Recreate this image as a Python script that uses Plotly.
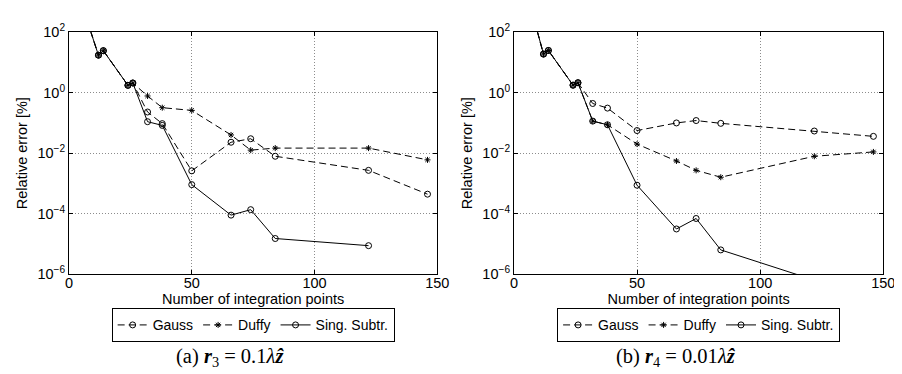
import plotly.graph_objects as go

# ---------------- data ----------------
n_pts = [6, 12, 14, 24, 26, 32, 38, 50, 66, 74, 84, 122, 146]
n_ss = [6, 12, 14, 24, 26, 32, 38, 50, 66, 74, 84, 122]

# (a) r3 = 0.1 lambda z
gauss_a = [540, 17.5, 24.6, 1.76, 2.1, 0.23, 0.095, 0.0026, 0.023, 0.030, 0.0079, 0.0027, 0.00044]
duffy_a = [540, 17.5, 24.6, 1.76, 2.1, 0.78, 0.32, 0.26, 0.040, 0.0126, 0.0147, 0.0147, 0.0060]
ss_a = [540, 17.5, 24.6, 1.76, 2.1, 0.11, 0.083, 0.00091, 8.9e-5, 1.35e-4, 1.5e-5, 8.7e-6]

# (b) r4 = 0.01 lambda z
gauss_b = [1200, 19, 25, 1.78, 2.14, 0.44, 0.31, 0.056, 0.10, 0.12, 0.097, 0.054, 0.036]
duffy_b = [1200, 19, 25, 1.78, 2.14, 0.115, 0.087, 0.020, 0.0055, 0.0027, 0.0016, 0.0079, 0.011]
ss_b = [1200, 19, 25, 1.78, 2.14, 0.115, 0.087, 0.00087, 3.1e-5, 6.9e-5, 6.3e-6, 6.3e-7]

names = ["Gauss", "Duffy", "Sing. Subtr."]
x_ticks = [0, 50, 100, 150]
y_ticks = [1e-6, 1e-4, 1e-2, 1, 1e2]
y_ticktext = ["10<sup>−6</sup>", "10<sup>−4</sup>", "10<sup>−2</sup>", "10<sup>0</sup>", "10<sup>2</sup>"]
x_title = "Number of integration points"
y_title = "Relative error [%]"
captions = ["(a) <b><i>r</i></b><sub>3</sub> = 0.1<i>λ</i><b><i>ẑ</i></b>",
            "(b) <b><i>r</i></b><sub>4</sub> = 0.01<i>λ</i><b><i>ẑ</i></b>"]

# ---------------- figure ----------------
W, H = 902, 374
fig = go.Figure()

panels = [
    dict(xa="x", ya="y", legend="legend", data=(gauss_a, duffy_a, ss_a)),
    dict(xa="x2", ya="y2", legend="legend2", data=(gauss_b, duffy_b, ss_b)),
]
dash_style = "7px,4px"
for p in panels:
    g, d, s = p["data"]
    fig.add_trace(go.Scatter(x=n_pts, y=g, name=names[0], mode="lines+markers",
                             line=dict(color="black", width=1, dash=dash_style),
                             marker=dict(symbol="circle-open", size=6, color="black", line=dict(width=1)),
                             xaxis=p["xa"], yaxis=p["ya"], legend=p["legend"]))
    fig.add_trace(go.Scatter(x=n_pts, y=d, name=names[1], mode="lines+markers",
                             line=dict(color="black", width=1, dash=dash_style),
                             marker=dict(symbol="asterisk-open", size=5, color="black", line=dict(width=1)),
                             xaxis=p["xa"], yaxis=p["ya"], legend=p["legend"]))
    fig.add_trace(go.Scatter(x=n_ss, y=s, name=names[2], mode="lines+markers",
                             line=dict(color="black", width=1),
                             marker=dict(symbol="circle-open", size=6, color="black", line=dict(width=1)),
                             xaxis=p["xa"], yaxis=p["ya"], legend=p["legend"]))

font = dict(family="Liberation Sans, Arial, sans-serif", size=14.5, color="black")
leg_font = dict(family="Liberation Sans, Arial, sans-serif", size=14, color="black")

def px_x(v):
    return v / W

def px_y(v):
    return 1 - v / H

ydom = [px_y(269), px_y(15)]
xdoms = [[px_x(58), px_x(433)], [px_x(511), px_x(887)]]

grid = dict(showgrid=True, gridcolor="#8c8c8c", griddash="1px,2px", gridwidth=1)
common_x = dict(range=[0, 150], tickvals=x_ticks, **grid,
                showline=True, linecolor="black", linewidth=1, mirror="ticks",
                ticks="inside", ticklen=4, tickcolor="black", zeroline=False,
                ticklabelstandoff=-4,
                tickfont=font, title=dict(text=x_title, font=font, standoff=0))
common_y = dict(type="log", range=[-6, 2], tickvals=y_ticks, ticktext=y_ticktext, **grid,
                showline=True, linecolor="black", linewidth=1, mirror="ticks",
                ticks="inside", ticklen=4, tickcolor="black", zeroline=False,
                tickfont=font, title=dict(text=y_title, font=font, standoff=6))

legend_common = dict(orientation="h", xanchor="center", yanchor="top",
                     y=px_y(305), bordercolor="black", borderwidth=1,
                     bgcolor="white", font=leg_font, itemwidth=30, tracegroupgap=0)

fig.update_layout(
    width=W, height=H,
    margin=dict(l=0, r=0, t=0, b=0),
    paper_bgcolor="white", plot_bgcolor="white",
    showlegend=True,
    xaxis=dict(domain=xdoms[0], anchor="y", **common_x),
    yaxis=dict(domain=ydom, anchor="x", **common_y),
    xaxis2=dict(domain=xdoms[1], anchor="y2", **common_x),
    yaxis2=dict(domain=ydom, anchor="x2", **common_y),
    legend=dict(x=px_x(245.5), **legend_common),
    legend2=dict(x=px_x(699), **legend_common),
)

cap_font = dict(family="Liberation Serif, DejaVu Serif, serif", size=20.5, color="black")
for cx, txt in zip([222, 676], captions):
    fig.add_annotation(text=txt, xref="paper", yref="paper", x=px_x(cx), y=px_y(357),
                       xanchor="center", yanchor="middle", showarrow=False, font=cap_font)

fig.write_html("out.html")
